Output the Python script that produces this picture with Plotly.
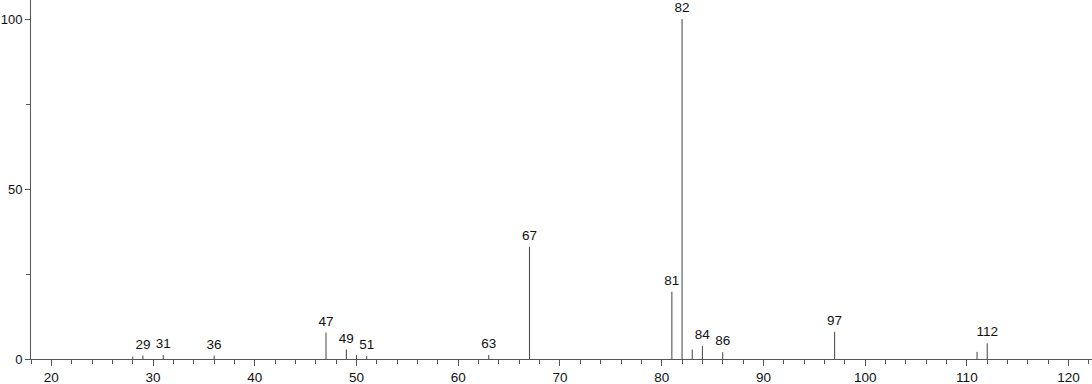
import plotly.graph_objects as go

# m/z values and relative intensities
mz = [28, 29, 31, 36, 47, 49, 50, 51, 63, 67, 81, 82, 83, 84, 86, 97, 111, 112]
intensity = [0.7, 1.0, 1.2, 1.0, 7.8, 2.8, 1.1, 0.9, 1.2, 33.0, 19.8, 100.0, 2.8, 3.8, 2.0, 8.0, 2.1, 4.6]
labeled = [29, 31, 36, 47, 49, 51, 63, 67, 81, 82, 84, 86, 97, 112]

xs, ys = [], []
for m, v in zip(mz, intensity):
    xs += [m, m, None]
    ys += [0, v, None]

lab_x = [m for m in mz if m in labeled]
lab_y = [v for m, v in zip(mz, intensity) if m in labeled]

FONT = "Liberation Sans, Arial, sans-serif"
fig = go.Figure()
fig.add_trace(go.Scatter(x=xs, y=ys, mode="lines",
                         line=dict(color="#444444", width=1),
                         hoverinfo="skip", showlegend=False))
fig.add_trace(go.Scatter(x=lab_x, y=lab_y, mode="text+markers",
                         marker=dict(size=4, color="rgba(0,0,0,0)"),
                         text=[str(m) for m in lab_x],
                         textposition="top center",
                         textfont=dict(family=FONT, size=13.5, color="#111111"),
                         cliponaxis=False, hoverinfo="skip", showlegend=False))

fig.update_layout(
    width=1092, height=384,
    margin=dict(l=31, r=0, t=0, b=25),
    paper_bgcolor="white", plot_bgcolor="white",
    font=dict(family=FONT, size=13.5, color="#111111"),
    xaxis=dict(range=[18.0, 122.3], tick0=0, dtick=10, ticks="outside",
               ticklen=6, tickcolor="#555555", tickwidth=1,
               showline=True, linecolor="#555555", linewidth=1,
               showgrid=False, zeroline=False, automargin=False,
               tickfont=dict(size=13.5),
               minor=dict(dtick=2, tick0=0, ticks="outside", ticklen=4,
                          tickcolor="#555555", showgrid=False)),
    yaxis=dict(range=[0, 105.6], tick0=0, dtick=50, ticks="outside",
               ticklen=5, tickcolor="#555555", tickwidth=1,
               showline=True, linecolor="#555555", linewidth=1,
               showgrid=False, zeroline=False, automargin=False,
               tickfont=dict(size=13),
               minor=dict(dtick=25, tick0=0, ticks="outside", ticklen=4,
                          tickcolor="#555555", showgrid=False)),
)
fig.write_html("out.html")
